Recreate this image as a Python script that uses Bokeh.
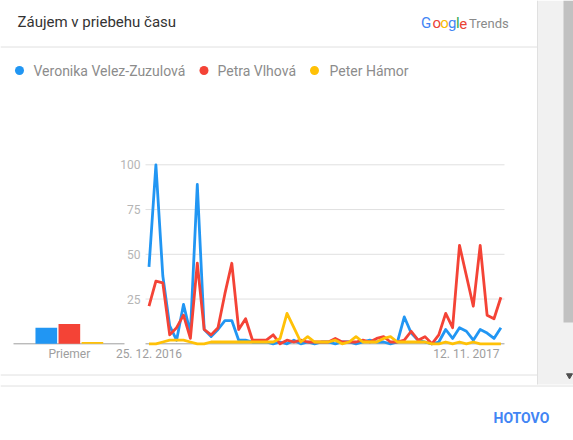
from bokeh.plotting import figure
from bokeh.models import Range1d
from bokeh.core.properties import value
from bokeh.embed import file_html
from bokeh.resources import INLINE

# ---------------- data ----------------
names = ["Veronika Velez-Zuzulová", "Petra Vlhová", "Peter Hámor"]
colors = ["#2196f3", "#f44336", "#ffc107"]
veronika = [43, 100, 38, 10, 2, 22, 6, 89, 8, 4, 8, 13, 13, 2, 2, 1, 1, 1, 0, 1,
            0, 2, 0, 1, 0, 1, 1, 0, 1, 1, 0, 1, 2, 1, 1, 0, 1, 15, 6, 2,
            1, 0, 1, 8, 3, 9, 7, 2, 8, 6, 3, 9]
petra = [21, 35, 34, 5, 9, 16, 3, 45, 8, 5, 9, 28, 45, 8, 14, 2, 2, 2, 5, 0,
         2, 1, 2, 1, 1, 1, 1, 3, 1, 1, 1, 2, 1, 3, 4, 1, 1, 2, 7, 2,
         4, 0, 5, 17, 9, 55, 38, 21, 55, 16, 14, 26]
peter = [0, 0, 1, 2, 2, 2, 1, 0, 0, 1, 1, 1, 1, 1, 1, 1, 1, 1, 1, 3,
         17, 9, 1, 4, 1, 1, 1, 2, 0, 1, 4, 1, 1, 1, 3, 4, 1, 1, 1, 1,
         1, 0, 0, 1, 0, 1, 0, 1, 0, 0, 0, 0]
averages = [9, 11, 1]
avg_label = "Priemer"
x_tick_weeks = [0, 46]
x_tick_labels = ["25. 12. 2016", "12. 11. 2017"]
y_ticks = [25, 50, 75, 100]
title_text = "Záujem v priebehu času"
google_letters = ["G", "o", "o", "g", "l", "e"]
google_colors = ["#4285f4", "#ea4335", "#fbbc05", "#4285f4", "#34a853", "#ea4335"]

# ---------------- layout (pixels) ----------------
W, H = 573, 440
X0PX, DXPX = 148.5, 6.9      # week 0 position, px per week
Y0PX, DYPX = 343.3, 1.79     # value 0 position, px per unit
BAR0PX, BARDX = 45.8, 23.05
FONT = value("Roboto")

p = figure(width=W, height=H, output_backend="svg", toolbar_location=None,
           x_axis_location=None, y_axis_location=None, min_border=0,
           x_range=Range1d(-X0PX / DXPX, (W - X0PX) / DXPX),
           y_range=Range1d(-(H - Y0PX) / DYPX, Y0PX / DYPX))
p.title = None
p.outline_line_color = None
p.background_fill_color = "white"
p.border_fill_color = "white"
p.grid.visible = False
p.extra_x_ranges = {"px": Range1d(0, W),
                    "bars": Range1d(-BAR0PX / BARDX, (W - BAR0PX) / BARDX)}
p.extra_y_ranges = {"px": Range1d(H, 0)}

PX = dict(x_range_name="px", y_range_name="px")

# scrollbar / card chrome
p.quad(left=537, right=W, top=0, bottom=384, color="#f1f1f1", line_color=None, **PX)
p.quad(left=563, right=W, top=0, bottom=322, color="#c1c1c1", line_color=None, **PX)
p.segment(x0=537, x1=537, y0=0, y1=384, color="#e0e0e0", line_width=1, **PX)
p.scatter(x=[569], y=[375], marker="inverted_triangle", size=6, color="#505050", **PX)
p.segment(x0=[0, 0, 0], x1=[537, 537, W], y0=[46.5, 374.5, 385.5], y1=[46.5, 374.5, 385.5],
          color="#e0e0e0", line_width=1, **PX)

# title & logo
p.text(x=[17], y=[21], text=[title_text], text_font=FONT, text_font_size="15px",
       text_color="#333333", text_baseline="middle", **PX)
gx = [420.5, 432, 439.7, 447.4, 455.6, 458.8]
p.text(x=gx, y=[22.5] * 6, text=google_letters, text_color=google_colors,
       text_font=FONT, text_font_size="15px", text_baseline="middle", **PX)
p.text(x=[468.5], y=[22.5], text=["Trends"], text_font=FONT, text_font_size="13px",
       text_color="#8a8a8a", text_baseline="middle", **PX)

# legend
p.scatter(x=[19, 203.5, 314], y=[70, 70, 70], size=9, color=colors, line_color=None, **PX)
p.text(x=[33, 217, 329], y=[70, 70, 70], text=names, text_font=FONT, text_font_size="14px",
       text_color="#8c8c8c", text_baseline="middle", **PX)

# grid lines at the y ticks, y tick labels
p.segment(x0=145, x1=504, y0=y_ticks, y1=y_ticks, color="#e0e0e0", line_width=1,
          x_range_name="px")
p.text(x=140, y=y_ticks, text=[str(t) for t in y_ticks], text_font=FONT,
       text_font_size="12px", text_color="#b5b5b5", text_align="right",
       text_baseline="middle", x_range_name="px")

# baselines
p.segment(x0=[13, 145], x1=[124, 504], y0=0, y1=0, color="#9e9e9e", line_width=1,
          x_range_name="px")

# average bars
p.vbar(x=[0, 1, 2], top=averages, bottom=0, width=0.94, color=colors,
       line_color=None, x_range_name="bars")
p.text(x=[1], y=[353], text=[avg_label], text_font=FONT, text_font_size="12px",
       text_color="#9e9e9e", text_align="center", text_baseline="middle",
       x_range_name="bars", y_range_name="px")

# x tick labels
p.text(x=x_tick_weeks, y=[353] * len(x_tick_weeks), text=x_tick_labels, text_font=FONT,
       text_font_size="12px", text_color="#9e9e9e", text_align="center",
       text_baseline="middle", y_range_name="px")

# series lines
weeks = list(range(len(veronika)))
for series, c in zip([veronika, petra, peter], colors):
    p.line(x=weeks, y=series, color=c, line_width=2.8, line_join="round")

# done button
p.text(x=[493], y=[417], text=["HOTOVO"], text_font=FONT, text_font_size="14px",
       text_font_style="bold", text_color="#4285f4", text_baseline="middle", **PX)

open("out.html", "w").write(file_html(p, INLINE))
